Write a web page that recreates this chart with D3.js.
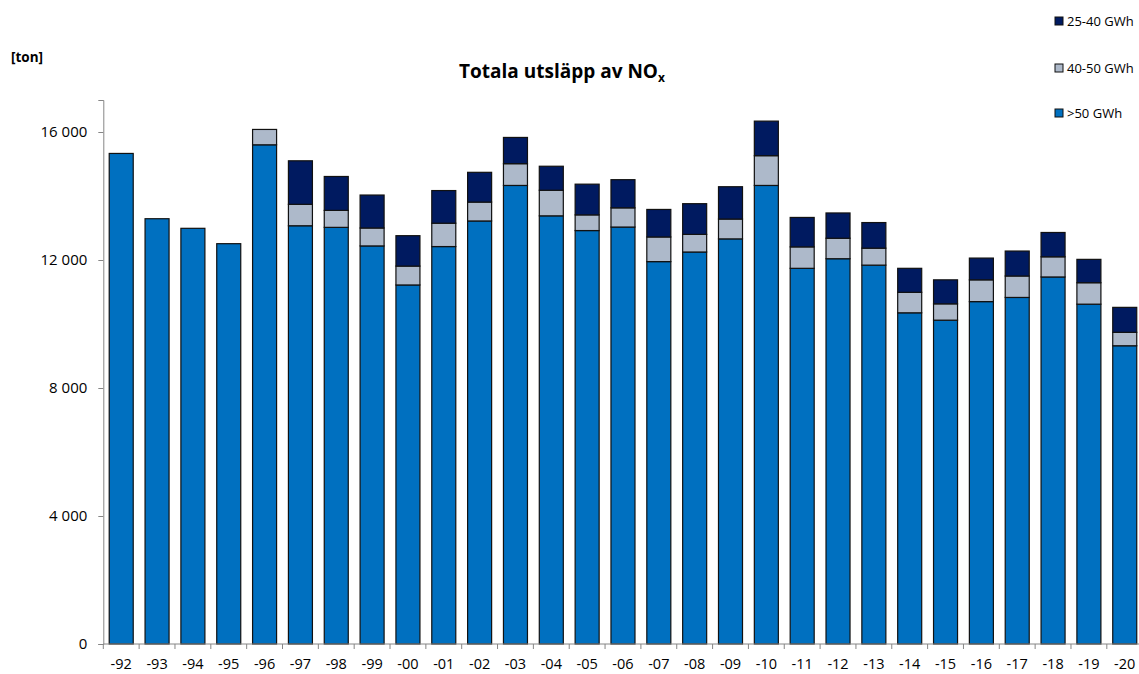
<!DOCTYPE html>
<html><head><meta charset="utf-8">
<script src="https://cdn.jsdelivr.net/npm/d3@7"></script>
<style>
body{margin:0;background:#fff;}
text{font-family:"Open Sans",Lato,sans-serif;}
</style></head>
<body><svg id="chart" width="1139" height="674"></svg>
<script>
const categories = ["-92","-93","-94","-95","-96","-97","-98","-99","-00","-01","-02","-03","-04","-05","-06","-07","-08","-09","-10","-11","-12","-13","-14","-15","-16","-17","-18","-19","-20"];
const over50 = [15330,13290,12990,12510,15600,13070,13020,12440,11220,12420,13220,14330,13380,12920,13030,11950,12250,12660,14330,11740,12040,11840,10350,10120,10700,10830,11470,10620,9320];
const gwh40_50 = [0,0,0,0,480,670,530,560,590,730,590,680,800,490,600,770,550,620,930,670,640,530,640,510,680,670,630,670,420];
const gwh25_40 = [0,0,0,0,0,1360,1060,1030,950,1020,930,820,750,960,880,860,960,1010,1080,920,790,800,750,750,680,780,760,730,780];
const yTicks = [0,4000,8000,12000,16000];
const seriesNames = [">50 GWh","40-50 GWh","25-40 GWh"];
const seriesColors = ["#0070C0","#ADB9CA","#001A60"];

const svg = d3.select("#chart");
const x0 = 103.3, xw = 35.84;
const x = d3.scaleBand().domain(categories).range([x0, x0 + xw*categories.length]).paddingInner(0.33).paddingOuter(0.165);
const y = d3.scaleLinear().domain([0,17000]).range([644,100]);

const rows = categories.map((c,i)=>({cat:c, a:over50[i], b:gwh40_50[i], c2:gwh25_40[i]}));
const stack = d3.stack().keys(["a","b","c2"])(rows);

const fmt = d => d3.format(",")(d).replace(/,/g," ");
const yAxis = d3.axisLeft(y).tickValues(yTicks).tickFormat(fmt).tickSize(5).tickPadding(11);
const gy = svg.append("g").attr("transform",`translate(${x0},0)`).call(yAxis);
gy.select(".domain").attr("stroke","#868686");
gy.selectAll(".tick line").attr("stroke","#868686");
gy.selectAll(".tick text").attr("font-size",15).attr("fill","#000");

const g = svg.append("g");
stack.forEach((layer,k)=>{
  g.selectAll(null).data(layer.filter(d=>d[1]-d[0]>0)).enter().append("rect")
    .attr("x",d=>x(d.data.cat)).attr("width",x.bandwidth())
    .attr("y",d=>y(d[1])).attr("height",d=>y(d[0])-y(d[1]))
    .attr("fill",seriesColors[k]).attr("stroke","#111").attr("stroke-width",1.2);
});

const xAxis = d3.axisBottom(x).tickSize(0).tickPadding(15);
const gx = svg.append("g").attr("transform","translate(0,644)").call(xAxis);
gx.select(".domain").remove();
gx.selectAll(".tick text").attr("font-size",14.5).attr("fill","#000");
svg.append("line").attr("x1",x0).attr("x2",1139).attr("y1",644).attr("y2",644).attr("stroke","#868686");
svg.selectAll(null).data(d3.range(categories.length+1)).enter().append("line")
  .attr("x1",i=>x0+i*xw).attr("x2",i=>x0+i*xw).attr("y1",644).attr("y2",649).attr("stroke","#868686");

const t = svg.append("text").attr("x",562).attr("y",78).attr("text-anchor","middle")
  .attr("font-size",19).attr("font-weight","bold").attr("fill","#000");
t.append("tspan").text("Totala utsläpp av NO");
t.append("tspan").text("x").attr("font-size",12).attr("dy",4);

svg.append("text").attr("x",11).attr("y",62).attr("font-size",13.5).attr("font-weight","bold").text("[ton]");

const legY = [113,68,21];
seriesNames.forEach((n,k)=>{
  svg.append("rect").attr("x",1055).attr("y",legY[k]-4).attr("width",8).attr("height",8)
    .attr("fill",seriesColors[k]).attr("stroke","#111").attr("stroke-width",1);
  svg.append("text").attr("x",1067).attr("y",legY[k]+5).attr("font-size",13).text(n);
});
</script></body></html>
